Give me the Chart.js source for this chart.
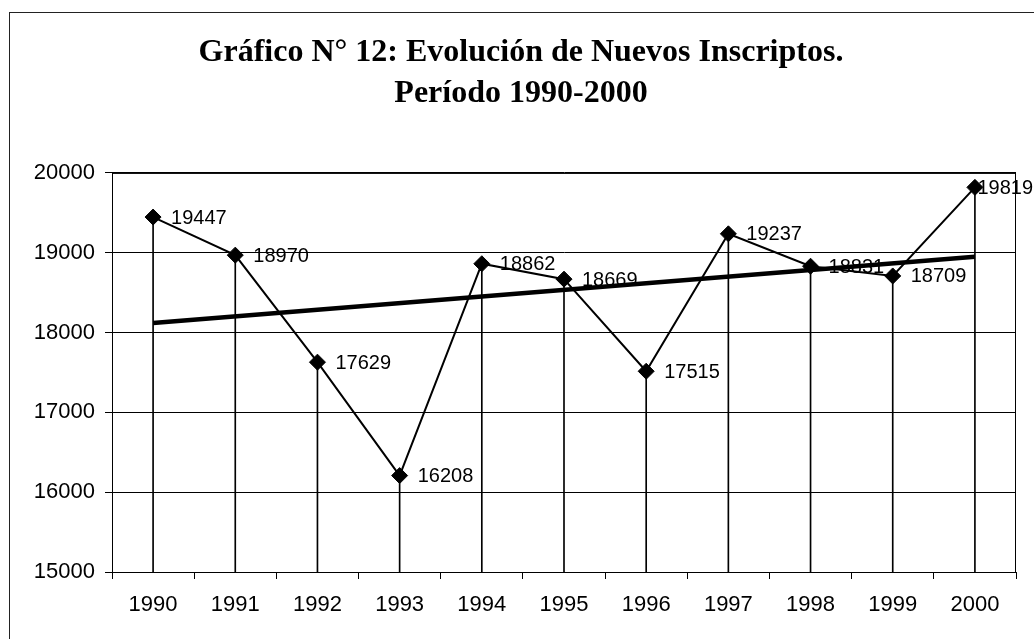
<!DOCTYPE html>
<html>
<head>
<meta charset="utf-8">
<script src="https://cdn.jsdelivr.net/npm/chart.js@4"></script>
<style>
  html, body { margin: 0; padding: 0; background: #fff; overflow: hidden; }
  #wrap { position: relative; width: 1034px; height: 639px; }
  #frame { position: absolute; left: 9px; top: 12px; width: 1100px; height: 700px;
           border-top: 1px solid #222; border-left: 1px solid #222; }
  canvas { position: absolute; left: 0; top: 0; }
</style>
</head>
<body>
<div id="wrap">
  <div id="frame"></div>
  <canvas id="chart" width="1034" height="639"></canvas>
</div>
<script>
// data
const years = ["1990", "1991", "1992", "1993", "1994", "1995", "1996", "1997", "1998", "1999", "2000"];
const inscriptos = [19447, 18970, 17629, 16208, 18862, 18669, 17515, 19237, 18831, 18709, 19819];
// trend line: only the two ends are drawn
const tendencia = [18121, null, null, null, null, null, null, null, null, null, 18951];
const yTicks = ["15000", "16000", "17000", "18000", "19000", "20000"];

const titleLines = ["Gráfico N° 12: Evolución de Nuevos Inscriptos.", "Período 1990-2000"];

// labels next to each point
const pointLabels = {
  id: "pointLabels",
  afterDatasetDraw(chart, args) {
    if (args.index !== 1) return;
    const ctx = chart.ctx;
    const meta = chart.getDatasetMeta(1);
    ctx.save();
    ctx.font = "20px 'Liberation Sans', Arial, sans-serif";
    ctx.fillStyle = "#000";
    ctx.textBaseline = "middle";
    meta.data.forEach((pt, i) => {
      const txt = String(inscriptos[i]);
      const w = ctx.measureText(txt).width;
      let x = pt.x + 18;
      if (x + w > chart.width - 1) x = chart.width - 1 - w;
      ctx.fillText(txt, x, pt.y + 1);
    });
    ctx.restore();
  }
};

// border around the plot area
const areaBorder = {
  id: "areaBorder",
  beforeDatasetsDraw(chart) {
    const a = chart.chartArea;
    const ctx = chart.ctx;
    ctx.save();
    ctx.strokeStyle = "#000";
    ctx.lineWidth = 1;
    ctx.strokeRect(a.left + 0.5, a.top + 0.5, a.right - a.left - 1, a.bottom - a.top);
    ctx.restore();
  }
};

const ctx = document.getElementById("chart");

new Chart(ctx, {
  data: {
    labels: years,
    datasets: [
      {
        type: "bar",
        data: inscriptos,
        backgroundColor: "#000",
        barThickness: 1,
        order: 3
      },
      {
        type: "line",
        data: inscriptos,
        borderColor: "#000",
        borderWidth: 2,
        pointStyle: "rectRot",
        pointRadius: 8,
        pointBackgroundColor: "#000",
        pointBorderColor: "#000",
        pointBorderWidth: 1,
        tension: 0,
        order: 2
      },
      {
        type: "line",
        data: tendencia,
        borderColor: "#000",
        borderWidth: 4.5,
        pointRadius: 0,
        spanGaps: true,
        tension: 0,
        order: 1
      }
    ]
  },
  options: {
    responsive: false,
    animation: false,
    layout: { padding: { left: 26, right: 18, top: 0, bottom: 0 } },
    plugins: {
      legend: { display: false },
      tooltip: { enabled: false },
      title: {
        display: true,
        text: titleLines,
        color: "#000",
        font: { family: "'Liberation Serif', 'Times New Roman', serif", size: 32, weight: "bold", lineHeight: 1.28 },
        padding: { top: 32, bottom: 59 }
      }
    },
    scales: {
      x: {
        offset: true,
        grid: { offset: true, drawOnChartArea: false, drawTicks: true, tickLength: 7, color: "#000", lineWidth: 1 },
        border: { display: true, color: "#000", width: 1 },
        ticks: {
          color: "#000",
          padding: 13,
          maxRotation: 0,
          font: { family: "'Liberation Sans', Arial, sans-serif", size: 22 }
        },
        afterFit(scale) { scale.height = 67; }
      },
      y: {
        min: 15000,
        max: 20000,
        grid: { color: "#000", lineWidth: 1, drawTicks: true, tickLength: 7 },
        border: { display: true, color: "#000", width: 1 },
        ticks: {
          stepSize: 1000,
          color: "#000",
          padding: 10,
          font: { family: "'Liberation Sans', Arial, sans-serif", size: 22 },
          callback: (v) => yTicks[(v - 15000) / 1000]
        },
        afterFit(scale) { scale.width = 86; }
      }
    }
  },
  plugins: [pointLabels, areaBorder]
});
</script>
</body>
</html>
